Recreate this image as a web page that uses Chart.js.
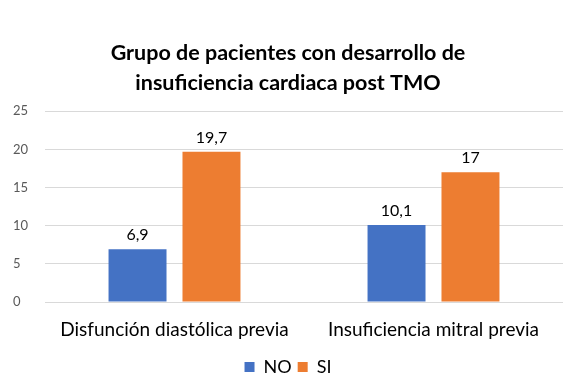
<!DOCTYPE html>
<html>
<head>
<meta charset="utf-8">
<script src="https://cdn.jsdelivr.net/npm/chart.js@4/dist/chart.umd.min.js"></script>
<style>
html,body{margin:0;padding:0;background:#fff;}
#wrap{width:588px;height:380px;position:relative;}
</style>
</head>
<body>
<div id="wrap"><canvas id="c" width="588" height="380"></canvas></div>
<script>
const categories = ["Disfunción diastólica previa", "Insuficiencia mitral previa"];
const seriesNames = ["NO", "SI"];
const valuesNO = [6.9, 10.1];
const valuesSI = [19.7, 17];
const yTicks = [0, 5, 10, 15, 20, 25];
const titleLines = ["Grupo de pacientes con desarrollo de", "insuficiencia cardiaca post TMO"];

const FONT = "Lato, 'Open Sans', sans-serif";

const labelPlugin = {
  id: 'barLabels',
  afterDatasetsDraw(chart) {
    const ctx = chart.ctx;
    ctx.save();
    ctx.font = "16px " + FONT;
    ctx.fillStyle = "#000";
    ctx.textAlign = "center";
    ctx.textBaseline = "bottom";
    chart.data.datasets.forEach((ds, i) => {
      const meta = chart.getDatasetMeta(i);
      meta.data.forEach((bar, j) => {
        const v = ds.data[j];
        ctx.fillText(String(v).replace('.', ','), bar.x, bar.y - 6);
      });
    });
    ctx.restore();
  }
};

new Chart(document.getElementById('c'), {
  type: 'bar',
  data: {
    labels: categories,
    datasets: [
      { label: seriesNames[0], data: valuesNO, backgroundColor: '#4472C4', categoryPercentage: 0.571, barPercentage: 0.784 },
      { label: seriesNames[1], data: valuesSI, backgroundColor: '#ED7D31', categoryPercentage: 0.571, barPercentage: 0.784 }
    ]
  },
  options: {
    responsive: false,
    animation: false,
    devicePixelRatio: 1,
    layout: { padding: { left: 13, right: 25, top: 10, bottom: -6 } },
    plugins: {
      title: {
        display: true,
        text: titleLines,
        color: '#000',
        font: { family: FONT, size: 21.5, weight: 'bold', lineHeight: 1.4 },
        padding: { top: 28, bottom: 13 }
      },
      legend: {
        position: 'bottom',
        labels: {
          color: '#000',
          font: { family: FONT, size: 18 },
          boxWidth: 10, boxHeight: 10,
          padding: 6
        }
      },
      tooltip: { enabled: false }
    },
    scales: {
      x: {
        grid: { display: false },
        border: { display: false },
        ticks: { color: '#000', font: { family: FONT, size: 19 }, padding: 8 },
        afterFit(s) { s.height = 50; }
      },
      y: {
        min: 0, max: 25,
        afterBuildTicks(s) { s.ticks = yTicks.map(v => ({ value: v })); },
        grid: { color: '#D9D9D9', lineWidth: 1, drawTicks: false },
        border: { display: false },
        ticks: { color: '#595959', font: { family: FONT, size: 13 }, crossAlign: 'far', padding: 8 },
        afterFit(s) { s.width = 32; }
      }
    }
  },
  plugins: [labelPlugin]
});
</script>
</body>
</html>
